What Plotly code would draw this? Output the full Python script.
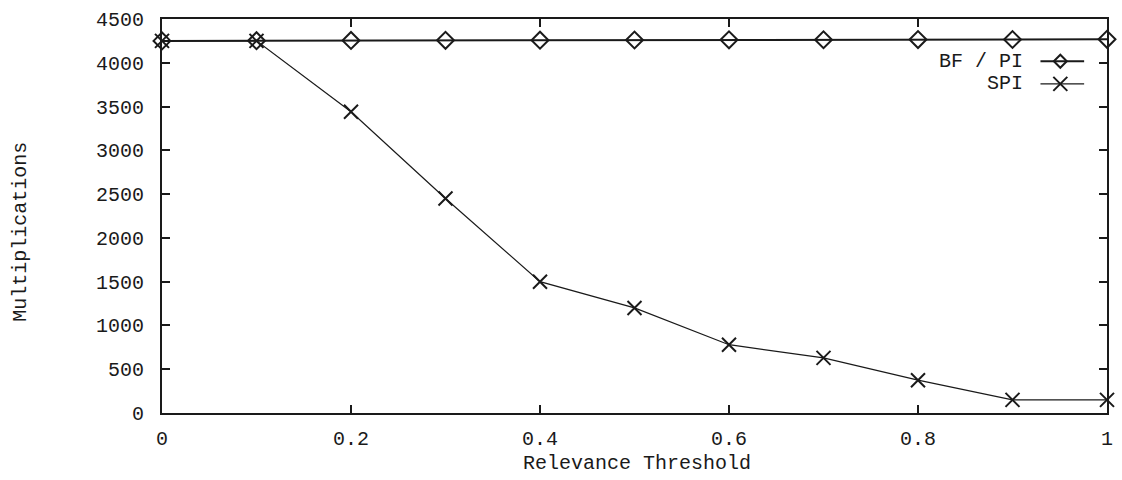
import plotly.graph_objects as go

# Relevance threshold sweep and multiplication counts per method
thresholds = [0.0, 0.1, 0.2, 0.3, 0.4, 0.5, 0.6, 0.7, 0.8, 0.9, 1.0]
bf_pi = [4250, 4252, 4255, 4257, 4258, 4260, 4262, 4263, 4265, 4266, 4268]
spi = [4250, 4250, 3440, 2450, 1500, 1200, 780, 630, 375, 150, 150]

x_tickvals = [0, 0.2, 0.4, 0.6, 0.8, 1.0]
x_ticktext = ["0", "0.2", "0.4", "0.6", "0.8", "1"]
y_tickvals = [0, 500, 1000, 1500, 2000, 2500, 3000, 3500, 4000, 4500]

FONT = "Liberation Mono, Courier New, monospace"
INK = "#1a1a1a"

fig = go.Figure()

fig.add_trace(go.Scatter(
    x=thresholds, y=bf_pi, name="BF / PI", mode="lines+markers",
    line=dict(color=INK, width=2),
    marker=dict(symbol="diamond-open", size=13, color=INK, line=dict(width=2)),
    cliponaxis=False, showlegend=False,
))
fig.add_trace(go.Scatter(
    x=thresholds, y=spi, name="SPI", mode="lines+markers",
    line=dict(color=INK, width=1.2),
    marker=dict(symbol="x-thin-open", size=14, color=INK, line=dict(width=2, color=INK)),
    cliponaxis=False, showlegend=False,
))

axis_common = dict(
    showline=True, linecolor=INK, linewidth=2, mirror="ticks",
    ticks="inside", ticklen=8, tickwidth=1.5, tickcolor=INK,
    showgrid=False, zeroline=False,
    tickfont=dict(family=FONT, size=20, color=INK),
)

fig.update_xaxes(range=[0, 1], tickvals=x_tickvals, ticktext=x_ticktext,
                 ticklabelstandoff=6, **axis_common)
fig.update_yaxes(range=[0, 4500], tickvals=y_tickvals,
                 ticklabelstandoff=12, **axis_common)

# Axis titles
fig.add_annotation(text="Relevance Threshold", xref="paper", yref="paper",
                   x=0.5026, y=-0.128, xanchor="center", yanchor="middle",
                   showarrow=False, font=dict(family=FONT, size=20, color=INK))
fig.add_annotation(text="Multiplications", xref="paper", yref="paper",
                   x=-0.1493, y=0.46, xanchor="center", yanchor="middle",
                   textangle=-90, showarrow=False,
                   font=dict(family=FONT, size=20, color=INK))

# Key in the upper right: label text followed by a line sample with its marker
key_rows = [("BF / PI", 0.8928, "diamond"), ("SPI", 0.8354, "x")]
for label, ky, sym in key_rows:
    fig.add_annotation(text=label, xref="paper", yref="paper",
                       x=0.9127, y=ky, xanchor="right", yanchor="middle",
                       showarrow=False, font=dict(family=FONT, size=20, color=INK))
    fig.add_shape(type="line", xref="paper", yref="paper",
                  x0=0.9296, x1=0.9758, y0=ky, y1=ky,
                  line=dict(color=INK, width=2 if sym == "diamond" else 1.2))
    if sym == "diamond":
        path = "M 0 -6.5 L 6.5 0 L 0 6.5 L -6.5 0 Z"
    else:
        path = "M -7 -7 L 7 7 M -7 7 L 7 -7"
    fig.add_shape(type="path", xref="paper", yref="paper",
                  xsizemode="pixel", ysizemode="pixel",
                  xanchor=0.9506, yanchor=ky, path=path,
                  line=dict(color=INK, width=2))

fig.update_layout(
    width=1122, height=480,
    margin=dict(l=162, r=9, t=12, b=67),
    paper_bgcolor="white", plot_bgcolor="white",
    font=dict(family=FONT, size=20, color=INK),
)

fig.write_html("out.html")
